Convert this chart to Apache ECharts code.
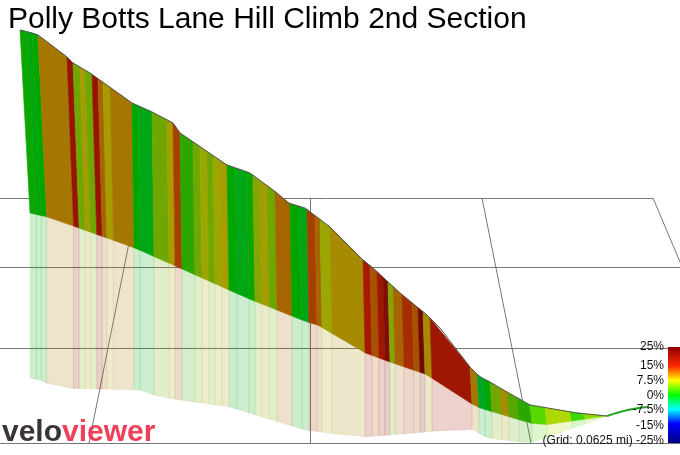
<!DOCTYPE html>
<html>
<head>
<meta charset="utf-8">
<script src="https://cdn.jsdelivr.net/npm/echarts@6/dist/echarts.min.js"></script>
<style>html,body{margin:0;padding:0;background:#fff}#main{width:680px;height:455px}</style>
</head>
<body>
<div id="main"></div>
<script>
// profile outline (screen-like units)
const topLine = [[20,30],[32,33],[38,35],[67,57],[73,63],[90,73],[132,103],[152,112],[173,123],[180,133],[227,165],[250,173],[277,193],[288,203],[305,208],[330,227],[363,260],[373,268],[400,293],[427,315],[440,328],[470,367],[480,377],[490,382],[500,388],[530,405],[577,413],[607,416]];
const baseLine = [[30,213],[48,217],[135,248],[180,268],[247,298],[307,322],[318,325],[363,352],[390,362],[428,375],[438,383],[477,407],[530,423],[543,425],[607,416]];
const shadowLine = [[30,378],[40,380],[57,388],[140,390],[160,397],[230,407],[305,430],[360,437],[390,435],[470,428],[477,432],[487,438],[530,443],[607,416]];
const tailLine = [[607,416],[620,412],[633,409],[648,407]];

// stripe boundaries along the top and gradient (%) of each stripe
const stripeX = [20,27,32,38,67,73,80,85,92,98,103,110,132,138,152,167,173,180,193,200,207,213,220,227,235,247,253,260,267,275,290,300,307,315,320,330,363,370,377,383,388,393,402,412,418,423,430,470,477,483,490,500,507,517,530,545,570,583,607];
const grades = [0.5,-0.5,0,10,17,5,8,5,17,11,8,10,0,-1,5,8,13,2,5,7,5,7,8,0,-1,0.5,6,8,5,11,0,-1,13,11,7,9,15,12,16,20,6,11,14,12,22,9,16,10,-2,0,5,9,4,2,3,6,2,5];

const legendTicks = ['25%','15%','7.5%','0%','-7.5%','-15%','-25%'];

const stops = [[-25,[0,0,127]],[-15,[0,0,255]],[-7.5,[0,255,255]],[0,[0,255,0]],[7.5,[255,255,0]],[15,[255,40,0]],[25,[140,0,0]]];
function gradeColor(g, k) {
  let c = stops[stops.length-1][1];
  for (let j = 0; j < stops.length-1; j++) {
    if (g <= stops[j+1][0]) {
      const t = Math.max(0,(g - stops[j][0])/(stops[j+1][0]-stops[j][0]));
      c = stops[j][1].map((v,m)=>v + (stops[j+1][1][m]-v)*t);
      break;
    }
  }
  return 'rgb(' + c.map(v=>Math.round(v*k)).join(',') + ')';
}
function yAt(line, x) {
  if (x <= line[0][0]) return line[0][1];
  for (let j = 0; j < line.length-1; j++) {
    if (x <= line[j+1][0]) {
      const t = (x-line[j][0])/(line[j+1][0]-line[j][0]);
      return line[j][1] + (line[j+1][1]-line[j][1])*t;
    }
  }
  return line[line.length-1][1];
}
const skew = (x) => x + (x < 600 ? 2 : 0) + 8*Math.max(0,(130-x)/110);
const shade = (x) => x > 520 ? 0.85 : 0.65;

const myChart = echarts.init(document.getElementById('main'));
const gridLines = [[0,198.5,653,198.5],[0,267.5,680,267.5],[0,348.5,680,348.5],[0,443.5,680,443.5],[138,198,89,443],[310.5,198,310.5,443],[482,198,531,443],[653,198,680,262]];

const option = {
  animation: false,
  grid: {left:0,right:0,top:0,bottom:0},
  xAxis: {type:'value',min:0,max:680,show:false},
  yAxis: {type:'value',min:0,max:455,inverse:true,show:false},
  title: {text:'Polly Botts Lane Hill Climb 2nd Section',left:3,top:0,textStyle:{fontFamily:'Liberation Sans',fontWeight:'normal',fontSize:30,color:'#000'}},
  graphic: gridLines.map(l=>({type:'line',z:0,shape:{x1:l[0],y1:l[1],x2:l[2],y2:l[3]},style:{stroke:'#777',lineWidth:1}})).concat([
    {type:'rect',z:10,shape:{x:668,y:347,width:12,height:96},style:{fill:new echarts.graphic.LinearGradient(0,0,0,1,stops.slice().reverse().map(s=>({offset:(25-s[0])/50,color:gradeColor(s[0],1)})))}},
    ...legendTicks.map((t,i)=>({type:'text',z:10,right:16,top:[341,360,375,390,404,420,435][i],style:{text:(i===6?'(Grid: 0.0625 mi) ':'')+t,fill:'#111',font:'12px Liberation Sans',textAlign:'right'}})),
    {type:'text',z:10,left:2,top:418,style:{rich:{a:{fill:'#3a3434',font:'bold 30px Liberation Sans'},b:{fill:'#ee4058',font:'bold 30px Liberation Sans'}},text:'{a|velo}{b|viewer}'}}
  ]),
  series: [
    {type:'custom',z:2,data:grades.map((g,i)=>[i,g]),renderItem:(params,api)=>{
      const i = api.value(0), g = api.value(1);
      const b0 = skew(stripeX[i]), b1 = skew(stripeX[i+1]);
      const pts = [[b0,yAt(baseLine,b0)],[b1,yAt(baseLine,b1)],[b1,yAt(shadowLine,b1)],[b0,yAt(shadowLine,b0)]].map(p=>api.coord(p));
      const c = gradeColor(g, shade(stripeX[i]));
      return {type:'polygon',shape:{points:pts},style:{fill:c,stroke:c,lineWidth:0.5,opacity:0.2}};
    }},
    {type:'custom',z:3,data:grades.map((g,i)=>[i,g]),renderItem:(params,api)=>{
      const i = api.value(0), g = api.value(1);
      const x0 = stripeX[i], x1 = stripeX[i+1], b0 = skew(x0), b1 = skew(x1);
      const pts = [[x0,yAt(topLine,x0)],[x1,yAt(topLine,x1)],[b1,yAt(baseLine,b1)],[b0,yAt(baseLine,b0)]].map(p=>api.coord(p));
      const c = gradeColor(g, shade(x0));
      return {type:'polygon',shape:{points:pts},style:{fill:c,stroke:c,lineWidth:0.6}};
    }},
    {type:'line',z:4,data:topLine,symbol:'none',lineStyle:{color:'#555',width:1}},
    {type:'line',z:4,data:tailLine,symbol:'none',smooth:true,lineStyle:{color:'#22a022',width:2}}
  ]
};
myChart.setOption(option);
</script>
</body>
</html>
